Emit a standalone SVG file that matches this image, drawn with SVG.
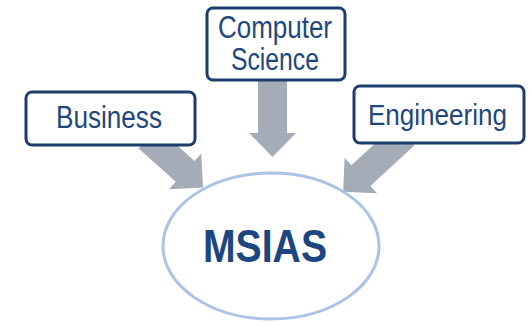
<svg xmlns="http://www.w3.org/2000/svg" width="529" height="325" viewBox="0 0 529 325">
<style>
.box{fill:#fff;stroke:#1d3d6d;stroke-width:3}
.lbl{font-family:"Liberation Sans",Arial,sans-serif;font-size:31px;fill:#1f477c;text-anchor:middle}
.arr{fill:#a6abb8}
</style>
<defs>
<polygon id="a74" points="0,-14 50,-14 50,-24 74,0 50,24 50,14 0,14"/>
<polygon id="a84" points="0,-14 60,-14 60,-24 84,0 60,24 60,14 0,14"/>
</defs>
<rect width="529" height="325" fill="#fff"/>
<g id="connectors" class="arr">
<use href="#a74" transform="translate(148,138) rotate(42)"/>
<use href="#a84" transform="translate(405,135) rotate(137.4)"/>
<polygon points="258,78 287,78 287,133 296,133 272.5,157 249,133 258,133"/>
</g>
<g id="msias">
<ellipse cx="271" cy="246" rx="108" ry="73" fill="#fff" stroke="#aac3e6" stroke-width="3"/>
<text x="265" y="262" font-family="'Liberation Sans',Arial,sans-serif" font-weight="bold" font-size="47" fill="#1c4680" text-anchor="middle" textLength="124" lengthAdjust="spacingAndGlyphs">MSIAS</text>
</g>
<g id="business">
<rect class="box" x="26" y="92" width="169" height="53" rx="6"/>
<text class="lbl" x="109" y="128" textLength="106" lengthAdjust="spacingAndGlyphs">Business</text>
</g>
<g id="cs">
<rect class="box" x="207" y="8" width="138" height="72" rx="6"/>
<text class="lbl" x="275" y="38" textLength="114" lengthAdjust="spacingAndGlyphs">Computer</text>
<text class="lbl" x="275" y="70" textLength="88" lengthAdjust="spacingAndGlyphs">Science</text>
</g>
<g id="engineering">
<rect class="box" x="354" y="86" width="170" height="57" rx="6"/>
<text class="lbl" x="437.5" y="125" font-size="29" style="font-size:29px" textLength="139" lengthAdjust="spacingAndGlyphs">Engineering</text>
</g>
</svg>
